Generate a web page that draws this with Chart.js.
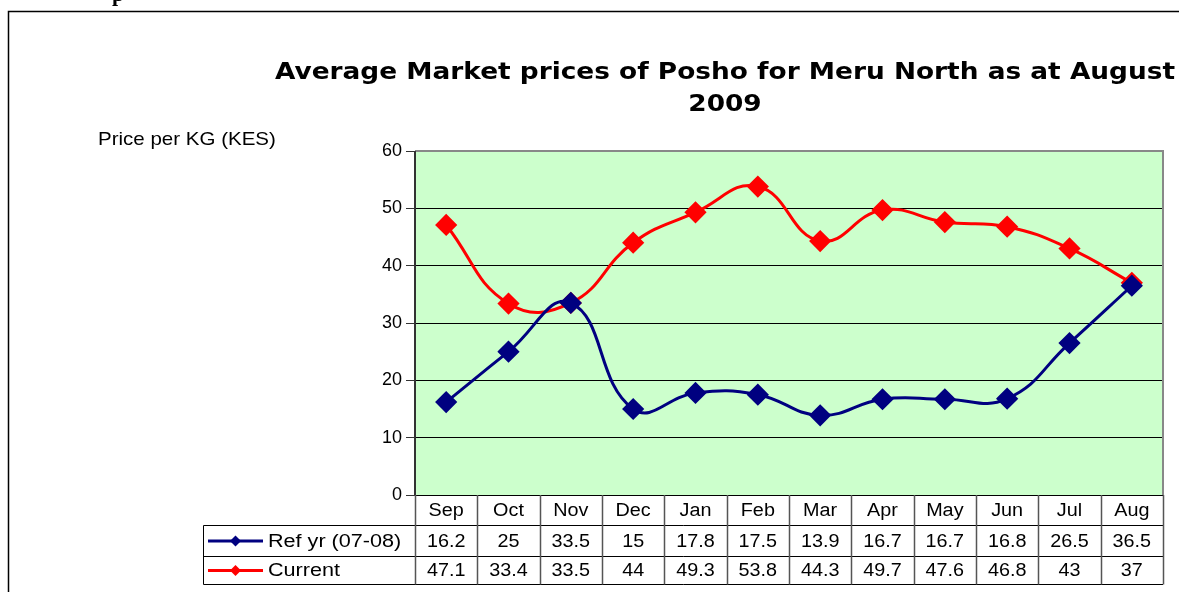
<!DOCTYPE html>
<html>
<head>
<meta charset="utf-8">
<script src="https://cdn.jsdelivr.net/npm/chart.js@4.4.0/dist/chart.umd.min.js"></script>
<style>
html,body{margin:0;padding:0;background:#fff;}
canvas{display:block;}
</style>
</head>
<body>
<canvas id="c" width="1179" height="592"></canvas>
<script>
const categories = ['Sep','Oct','Nov','Dec','Jan','Feb','Mar','Apr','May','Jun','Jul','Aug'];
const refYr = [16.2,25,33.5,15,17.8,17.5,13.9,16.7,16.7,16.8,26.5,36.5];
const current = [47.1,33.4,33.5,44,49.3,53.8,44.3,49.7,47.6,46.8,43,37];
const seriesLabels = ['Ref yr (07-08)','Current'];
const yTicks = [0,10,20,30,40,50,60];
const titleLines = ['Average Market prices of Posho for Meru North as at August','2009'];
const yTitle = 'Price per KG (KES)';

const NAVY = '#000080', RED = '#FF0000';
const FONT = '"Liberation Sans", Arial, sans-serif';
const SX = 1.1;

function stretchText(ctx, text, x, y, sx) {
  ctx.save();
  ctx.translate(x, y);
  ctx.scale(sx, 1);
  ctx.fillText(text, 0, 0);
  ctx.restore();
}

const decor = {
  id: 'decor',
  beforeDraw(chart) {
    const {ctx, chartArea: a} = chart;
    ctx.save();
    ctx.fillStyle = '#fff';
    ctx.fillRect(0, 0, chart.width, chart.height);
    ctx.fillStyle = '#CCFFCC';
    ctx.fillRect(a.left, a.top, a.right - a.left, a.bottom - a.top);
    ctx.strokeStyle = '#000';
    ctx.lineWidth = 1.5;
    ctx.beginPath();
    ctx.moveTo(8.5, 600); ctx.lineTo(8.5, 11.5); ctx.lineTo(1185, 11.5);
    ctx.stroke();
    ctx.fillStyle = '#000';
    ctx.font = 'bold 22px "Liberation Serif", serif';
    ctx.textBaseline = 'alphabetic';
    ctx.fillText('p', 112, 1);
    ctx.font = 'bold 23px "DejaVu Sans", sans-serif';
    ctx.textAlign = 'center';
    ctx.textBaseline = 'middle';
    const cx = 725;
    const w = ctx.measureText(titleLines[0]).width;
    const tsx = 900 / w;
    stretchText(ctx, titleLines[0], cx, 73, tsx);
    stretchText(ctx, titleLines[1], cx, 105, tsx);
    ctx.font = '19px ' + FONT;
    ctx.textAlign = 'left';
    stretchText(ctx, yTitle, 98, 140, 1.08);
    ctx.restore();
  },
  beforeDatasetsDraw(chart) {
    const {ctx, chartArea: a} = chart;
    ctx.save();
    ctx.strokeStyle = '#888';
    ctx.lineWidth = 2;
    ctx.beginPath();
    ctx.moveTo(a.left, a.top); ctx.lineTo(a.right, a.top); ctx.lineTo(a.right, a.bottom);
    ctx.stroke();
    ctx.strokeStyle = '#333';
    ctx.lineWidth = 2;
    ctx.beginPath();
    ctx.moveTo(a.left, a.top); ctx.lineTo(a.left, a.bottom);
    ctx.stroke();
    ctx.restore();
  },
  afterDraw(chart) {
    const {ctx, chartArea: a} = chart;
    const x = chart.scales.x;
    const n = categories.length;
    const cw = (a.right - a.left) / n;
    const r0 = a.bottom, r1 = 525.5, r2 = 556.5, r3 = 584.5;
    const legL = 203.5;
    ctx.save();
    ctx.strokeStyle = '#000';
    ctx.lineWidth = 1;
    ctx.beginPath();
    ctx.moveTo(a.left, r0 + 0.5); ctx.lineTo(a.right, r0 + 0.5);
    ctx.moveTo(legL, r1); ctx.lineTo(a.right, r1);
    ctx.moveTo(legL, r2); ctx.lineTo(a.right, r2);
    ctx.moveTo(legL, r3); ctx.lineTo(a.right, r3);
    ctx.moveTo(legL, r1); ctx.lineTo(legL, r3);
    ctx.stroke();
    ctx.strokeStyle = '#555';
    ctx.lineWidth = 1.5;
    ctx.beginPath();
    for (let i = 0; i <= n; i++) {
      const xx = Math.round(a.left + i * cw) + 0.5;
      ctx.moveTo(xx, r0); ctx.lineTo(xx, r3);
    }
    ctx.stroke();
    ctx.fillStyle = '#000';
    ctx.font = '18px ' + FONT;
    ctx.textAlign = 'center';
    ctx.textBaseline = 'middle';
    for (let i = 0; i < n; i++) {
      const px = x.getPixelForValue(i);
      stretchText(ctx, categories[i], px, (r0 + r1) / 2 + 1, SX);
      stretchText(ctx, String(refYr[i]), px, (r1 + r2) / 2 + 1, SX);
      stretchText(ctx, String(current[i]), px, (r2 + r3) / 2 + 1, SX);
    }
    const rows = [[(r1 + r2) / 2, NAVY], [(r2 + r3) / 2, RED]];
    rows.forEach(([yy, col], k) => {
      ctx.strokeStyle = col;
      ctx.lineWidth = 3;
      ctx.beginPath();
      ctx.moveTo(208, yy); ctx.lineTo(263, yy);
      ctx.stroke();
      ctx.fillStyle = col;
      ctx.beginPath();
      const d = 5.5;
      ctx.moveTo(235.5, yy - d); ctx.lineTo(235.5 + d, yy); ctx.lineTo(235.5, yy + d); ctx.lineTo(235.5 - d, yy);
      ctx.closePath(); ctx.fill();
      ctx.fillStyle = '#000';
      ctx.textAlign = 'left';
      stretchText(ctx, seriesLabels[k], 268, yy + 1, 1.2);
    });
    ctx.restore();
  }
};

new Chart(document.getElementById('c'), {
  type: 'line',
  data: {
    labels: categories,
    datasets: [
      {label: seriesLabels[0], data: refYr, borderColor: NAVY, backgroundColor: NAVY,
       borderWidth: 3, pointStyle: 'rectRot', pointRadius: 9, pointHoverRadius: 9, tension: 0.45, fill: false},
      {label: seriesLabels[1], data: current, borderColor: RED, backgroundColor: RED,
       borderWidth: 3, pointStyle: 'rectRot', pointRadius: 9, pointHoverRadius: 9, tension: 0.45, fill: false}
    ]
  },
  options: {
    responsive: false,
    animation: false,
    devicePixelRatio: 1,
    layout: {padding: {top: 151, right: 16, left: 0, bottom: 0}},
    plugins: {legend: {display: false}, title: {display: false}, tooltip: {enabled: false}},
    scales: {
      x: {
        type: 'category', offset: true,
        grid: {display: false}, border: {display: false},
        ticks: {display: false},
        afterFit(s) { s.height = 97; }
      },
      y: {
        min: 0, max: 60,
        afterBuildTicks(s) { s.ticks = yTicks.map(v => ({value: v})); },
        grid: {color: '#000', lineWidth: 1, tickLength: 9, drawTicks: true, tickColor: '#333'},
        border: {display: false},
        ticks: {color: '#000', font: {family: FONT, size: 18}, padding: 4},
        afterFit(s) { s.width = 415; }
      }
    }
  },
  plugins: [decor]
});
</script>
</body>
</html>
